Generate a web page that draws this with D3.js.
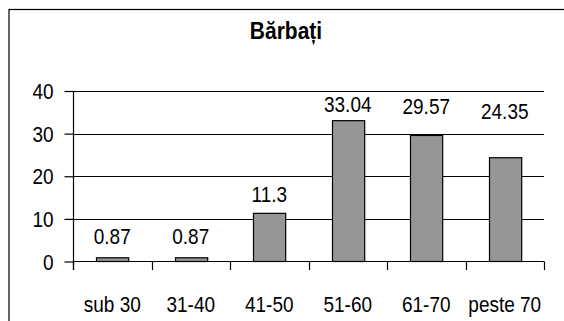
<!DOCTYPE html>
<html>
<head>
<meta charset="utf-8">
<script src="https://cdn.jsdelivr.net/npm/d3@7"></script>
<style>
  html, body { margin: 0; padding: 0; background: #fff; }
  svg { display: block; }
  text { font-family: "Liberation Sans", Arial, sans-serif; fill: #000; }
</style>
</head>
<body>
<svg id="chart" width="564" height="321"></svg>
<script>
const title = "Bărbați";
const categories = ["sub 30", "31-40", "41-50", "51-60", "61-70", "peste 70"];
const values = [0.87, 0.87, 11.3, 33.04, 29.57, 24.35];
const valueLabels = ["0.87", "0.87", "11.3", "33.04", "29.57", "24.35"];
const yTicks = [0, 10, 20, 30, 40];
// manual label nudges (px above bar top), as in the original
const labelGap = [14, 14, 11, 9, 21, 39];

const SY = 1.12; // vertical stretch of the original's text
const svg = d3.select("#chart");

svg.append("rect")
  .attr("x", 9).attr("y", 9.5)
  .attr("width", 700).attr("height", 500)
  .attr("fill", "none").attr("stroke", "#000").attr("stroke-width", 1.2);

const x0 = 73, x1 = 544, yTop = 91, yBot = 261.5;

const x = d3.scaleBand().domain(categories).range([x0, x1])
  .paddingInner(0.59).paddingOuter(0.295);
const xc = d3.scaleBand().domain(categories).range([x0, x1]).padding(0);
const y = d3.scaleLinear().domain([0, 40]).range([yBot, yTop]);

function stretched(sel, fx, fy) {
  sel.attr("transform", (d, i) => `translate(${fx(d, i)},${fy(d, i)}) scale(1,${SY})`);
}

// title
svg.append("text").datum(title)
  .call(stretched, () => 286, () => 38.5)
  .attr("text-anchor", "middle")
  .style("font-size", "21px").style("font-weight", "bold")
  .text(d => d);

// gridlines
svg.append("g").selectAll("line").data(yTicks.filter(d => d > 0)).join("line")
  .attr("x1", x0).attr("x2", x1)
  .attr("y1", d => Math.round(y(d)) + 0.5).attr("y2", d => Math.round(y(d)) + 0.5)
  .attr("stroke", "#000").attr("stroke-width", 1.2);

// bars
svg.append("g").selectAll("rect").data(values).join("rect")
  .attr("x", (d, i) => Math.round(x(categories[i])) + 0.5)
  .attr("y", d => y(d))
  .attr("width", x.bandwidth())
  .attr("height", d => yBot - y(d))
  .attr("fill", "#969696").attr("stroke", "#000").attr("stroke-width", 1.2);

// y axis
const yAxis = d3.axisLeft(y).tickValues(yTicks).tickSize(9).tickPadding(11).tickSizeOuter(0);
const gy = svg.append("g").attr("transform", `translate(${x0 + 0.5},0)`).call(yAxis);
gy.select(".domain").remove();
gy.selectAll(".tick line").attr("stroke", "#000").attr("stroke-width", 1.2);
gy.selectAll(".tick text")
  .style("font-size", "19px").style("font-family", "Liberation Sans, Arial, sans-serif")
  .attr("x", null).attr("dy", null)
  .attr("transform", `translate(-20,7.5) scale(1,${SY})`);
svg.append("line").attr("x1", x0 + 0.5).attr("x2", x0 + 0.5).attr("y1", yTop).attr("y2", yBot + 8.5)
  .attr("stroke", "#000").attr("stroke-width", 1.2);

// x axis
svg.append("line").attr("x1", x0).attr("x2", x1).attr("y1", yBot).attr("y2", yBot)
  .attr("stroke", "#000").attr("stroke-width", 1.2);
const boundaries = categories.map(c => xc(c)).concat([x1]);
svg.append("g").selectAll("line").data(boundaries).join("line")
  .attr("x1", d => Math.round(d) + 0.5).attr("x2", d => Math.round(d) + 0.5)
  .attr("y1", yBot).attr("y2", yBot + 8.5)
  .attr("stroke", "#000").attr("stroke-width", 1.2);

// category labels
svg.append("g").selectAll("text").data(categories).join("text")
  .call(stretched, d => xc(d) + xc.bandwidth() / 2, () => 311.5)
  .attr("text-anchor", "middle")
  .style("font-size", "19px")
  .text(d => d);

// value labels
svg.append("g").selectAll("text").data(values).join("text")
  .call(stretched, (d, i) => x(categories[i]) + x.bandwidth() / 2, (d, i) => y(d) - labelGap[i])
  .attr("text-anchor", "middle")
  .style("font-size", "19px")
  .text((d, i) => valueLabels[i]);
</script>
</body>
</html>
